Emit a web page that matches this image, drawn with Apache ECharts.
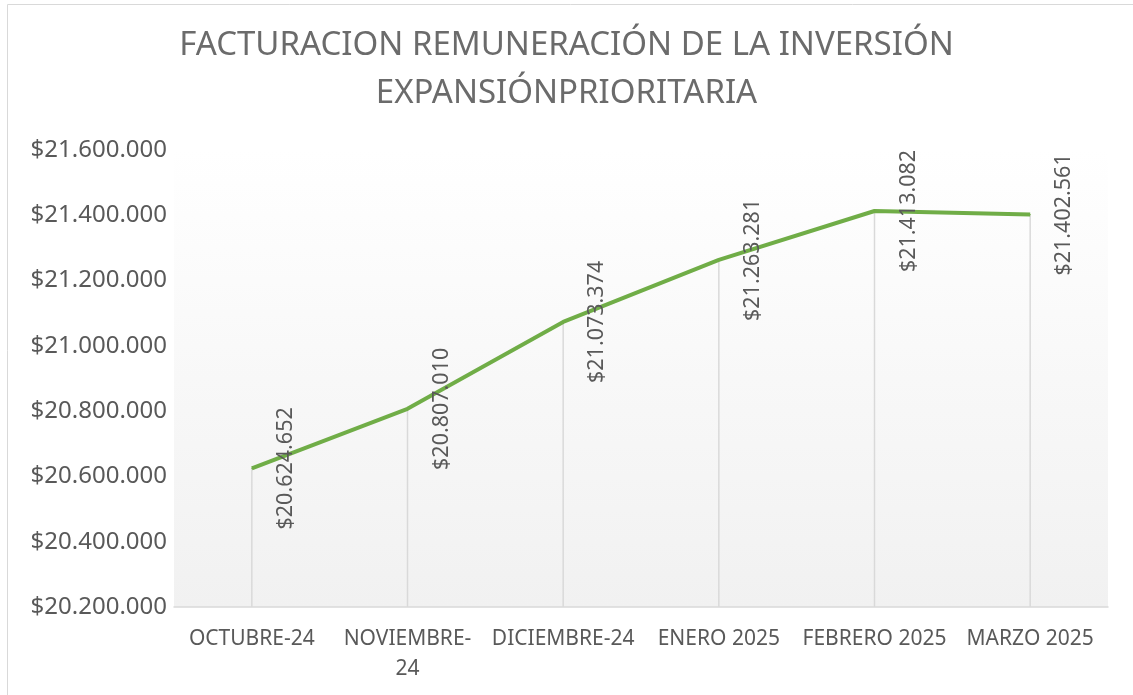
<!DOCTYPE html>
<html>
<head>
<meta charset="utf-8">
<style>
	body { margin: 0; background: #ffffff; }
	#main { width: 1133px; height: 695px; }
</style>
</head>
<body>
<div id="main"></div>
<script src="https://cdn.jsdelivr.net/npm/echarts@6/dist/echarts.min.js"></script>
<script>
	// 数据
	var categories = ['OCTUBRE-24', 'NOVIEMBRE-24', 'DICIEMBRE-24', 'ENERO 2025', 'FEBRERO 2025', 'MARZO 2025'];
	var facturacion = [20624652, 20807010, 21073374, 21263281, 21413082, 21402561];
	var yMin = 20200000;
	var yMax = 21600000;
	var yStep = 200000;

	function money(v) {
		return '$' + String(Math.round(v)).replace(/\B(?=(\d{3})+(?!\d))/g, '.');
	}

	// 类目名太长时在连字符后换行
	var measureCtx = document.createElement('canvas').getContext('2d');
	measureCtx.font = '21px "Noto Sans"';
	function wrapLabel(v) {
		if (measureCtx.measureText(v).width > 140 && v.indexOf('-') > 0 && v.indexOf('NOV') === 0) {
			return v.replace('-', '-\n');
		}
		return v;
	}

	var myChart = echarts.init(document.getElementById('main'));

	var option = {
		animation: false,
		textStyle: { fontFamily: 'Noto Sans' },
		title: {
			text: 'FACTURACION REMUNERACIÓN DE LA INVERSIÓN\nEXPANSIÓNPRIORITARIA',
			left: 'center',
			top: 17,
			textStyle: {
				fontFamily: 'Noto Sans',
				fontSize: 33,
				fontWeight: 'normal',
				color: '#6b6b6b',
				lineHeight: 48
			}
		},
		graphic: [{
			type: 'rect',
			shape: { x: 7.5, y: 4.5, width: 1130, height: 700 },
			style: { fill: 'none', stroke: '#d9d9d9', lineWidth: 1 },
			silent: true
		}],
		grid: {
			left: 174,
			right: 25,
			top: 150,
			bottom: 88,
			show: true,
			borderWidth: 0,
			backgroundColor: new echarts.graphic.LinearGradient(0, 0, 0, 1, [
				{ offset: 0, color: '#ffffff' },
				{ offset: 1, color: '#f1f1f1' }
			])
		},
		xAxis: {
			type: 'category',
			data: categories,
			boundaryGap: true,
			axisLine: { lineStyle: { color: '#d9d9d9', width: 1.5 } },
			axisTick: { show: false },
			axisLabel: {
				interval: 0,
				margin: 17,
				fontSize: 21,
				color: '#595959',
				lineHeight: 30,
				formatter: wrapLabel
			}
		},
		yAxis: {
			type: 'value',
			min: yMin,
			max: yMax,
			interval: yStep,
			axisLine: { show: false },
			axisTick: { show: false },
			splitLine: { show: false },
			axisLabel: {
				margin: 7,
				fontSize: 24,
				color: '#595959',
				formatter: money
			}
		},
		series: [{
			name: 'drop',
			type: 'bar',
			data: facturacion,
			barWidth: 1.5,
			silent: true,
			itemStyle: { color: '#d9d9d9' }
		}, {
			name: 'Facturación',
			type: 'line',
			data: facturacion,
			symbol: 'circle',
			symbolSize: 1,
			showSymbol: true,
			itemStyle: { color: '#70ad47' },
			lineStyle: { color: '#70ad47', width: 4 },
			label: {
				show: true,
				position: 'inside',
				rotate: 90,
				offset: [0, 34],
				fontSize: 21.5,
				color: '#595959',
				formatter: function (p) { return money(p.value); }
			}
		}]
	};

	myChart.setOption(option);
</script>
</body>
</html>
